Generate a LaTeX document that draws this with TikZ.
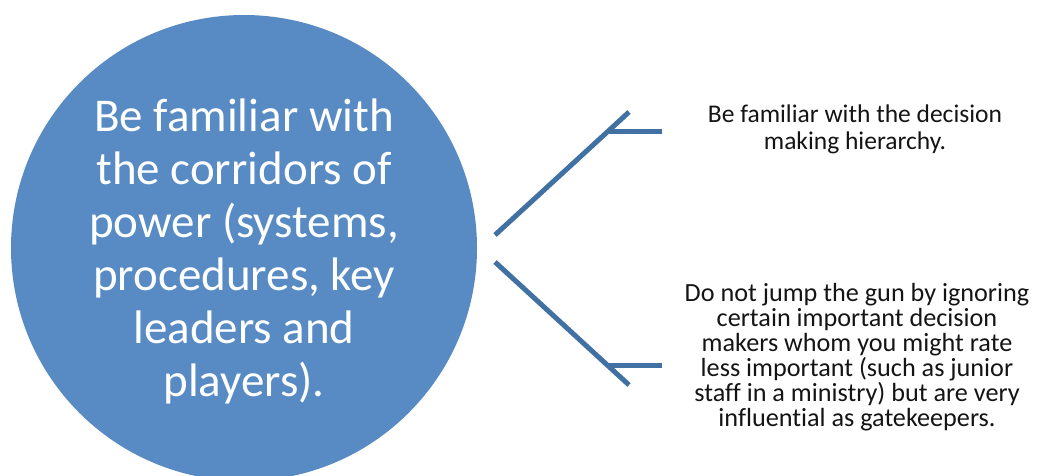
\documentclass[tikz,border=0pt]{standalone}
\usepackage{fontspec}
\setmainfont[Ligatures=CommonOff]{Carlito}
\definecolor{hubfill}{RGB}{88,139,196}
\definecolor{branch}{RGB}{64,113,162}
\definecolor{notetext}{RGB}{20,20,20}
\begin{document}
\begin{tikzpicture}[x=1pt,y=-1pt,
  hub/.style={circle,fill=hubfill,draw=none,minimum size=466pt,inner sep=0pt},
  hubtext/.style={text=white,align=center,font=\fontsize{47}{53}\selectfont},
  note/.style={text=notetext,align=center,inner sep=0pt},
  branchline/.style={draw=branch,line width=5pt}]
  \clip (0,0) rectangle (1038,475);
  \useasboundingbox (0,0) rectangle (1038,475);

  % central circle with its statement
  \node[hub] (hub) at (244,248) {};
  \node[hubtext] (hubtxt) at (244,251) {Be familiar with\\the corridors of\\power (systems,\\procedures, key\\leaders and\\players).};

  % branch end points
  \coordinate (upstart) at (495,235);
  \coordinate (uptip) at (629,112);
  \coordinate (upknee) at (608,131.3);
  \coordinate (upend) at (662,131.3);
  \coordinate (downstart) at (495,262);
  \coordinate (downtip) at (629,385);
  \coordinate (downknee) at (608,365.7);
  \coordinate (downend) at (662,365.7);

  % the two branches
  \draw[branchline] (upstart) -- (uptip);
  \draw[branchline] (upknee) -- (upend);
  \draw[branchline] (downstart) -- (downtip);
  \draw[branchline] (downknee) -- (downend);

  % notes beside the branches
  \node[note,font=\fontsize{25.5}{27.5}\selectfont] (note1) at (855,129.5) {Be familiar with the decision\\making hierarchy.};
  \node[note,font=\fontsize{26.2}{25}\selectfont] (note2) at (857,357) {Do not jump the gun by ignoring\\certain important decision\\makers whom you might rate\\less important (such as junior\\staff in a ministry) but are very\\influential as gatekeepers.};
\end{tikzpicture}
\end{document}
